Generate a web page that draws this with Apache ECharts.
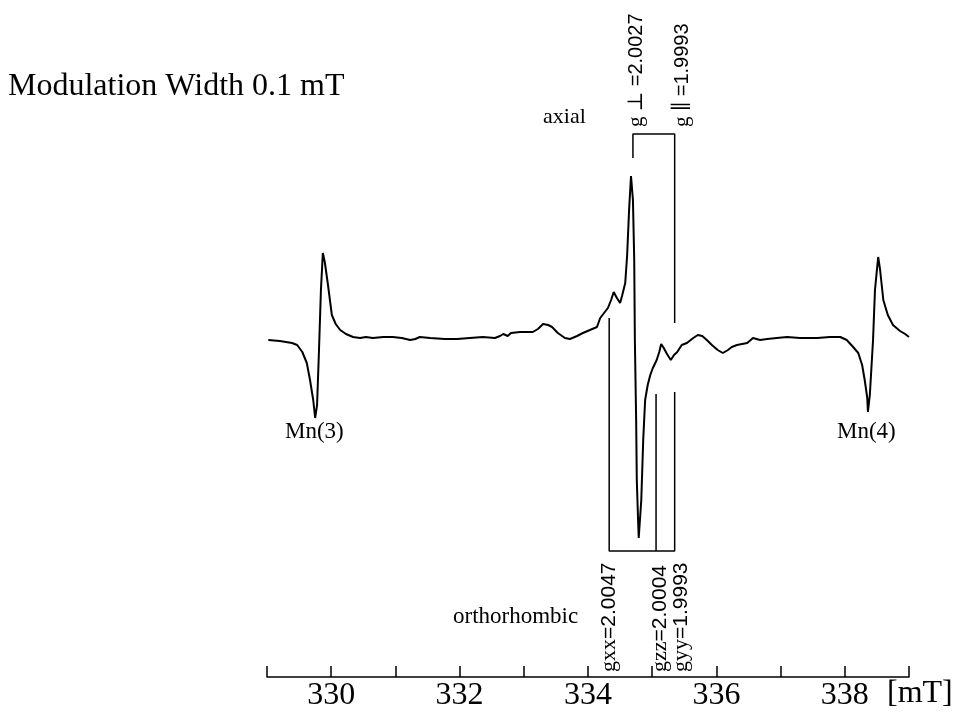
<!DOCTYPE html>
<html>
<head>
<meta charset="utf-8">
<title>EPR spectrum</title>
<script src="https://cdn.jsdelivr.net/npm/echarts/dist/echarts.min.js"></script>
<style>
    html, body { margin: 0; padding: 0; background: #fff; }
    #chartsObj_EPR { width: 958px; height: 713px; }
</style>
</head>
<body>
<div id="chartsObj_EPR"></div>
<script>
// magnetic field [mT] of each trace point
const fieldMT = [
    329.02, 329.20, 329.39, 329.47, 329.55, 329.62, 329.67, 329.72, 329.75, 329.78,
    329.81, 329.84, 329.87, 329.90, 329.95, 330.01, 330.07, 330.14, 330.23, 330.34,
    330.45, 330.54, 330.65, 330.81, 330.96, 331.10, 331.23, 331.31, 331.38, 331.54,
    331.77, 331.96, 332.16, 332.36, 332.55, 332.63, 332.68, 332.75, 332.80, 332.83,
    332.94, 333.14, 333.22, 333.30, 333.38, 333.44, 333.53, 333.64, 333.72, 333.83,
    333.92, 334.03, 334.14, 334.19, 334.25, 334.31, 334.36, 334.40, 334.45, 334.50,
    334.53, 334.58, 334.61, 334.64, 334.67, 334.70, 334.72, 334.73, 334.75, 334.76,
    334.78, 334.79, 334.83, 334.86, 334.89, 334.93, 334.97, 335.01, 335.07, 335.11,
    335.14, 335.18, 335.23, 335.29, 335.34, 335.39, 335.46, 335.54, 335.64, 335.71,
    335.78, 335.85, 335.93, 336.02, 336.10, 336.18, 336.24, 336.32, 336.40, 336.48,
    336.57, 336.68, 336.79, 336.94, 337.10, 337.30, 337.57, 337.77, 337.93, 338.03,
    338.13, 338.21, 338.27, 338.31, 338.35, 338.36, 338.39, 338.44, 338.47, 338.52,
    338.55, 338.60, 338.67, 338.75, 338.86, 338.94, 339.00
];
// first-derivative EPR signal (arbitrary units)
const signal = [
    0, -1, -3, -5, -12, -23, -40, -60, -78, -65,
    -10, 50, 87, 78, 55, 25, 16, 10, 6, 3,
    2, 3, 2, 3, 3, 2, 0, 1, 3, 2,
    1, 1, 2, 3, 2, 4, 6, 4, 7, 9,
    8, 8, 11, 16, 15, 13, 7, 2, 1, 4,
    7, 10, 13, 22, 27, 32, 40, 48, 42, 37,
    44, 57, 85, 130, 164, 140, 80, 0, -80, -140,
    -180, -198, -160, -100, -60, -45, -35, -28, -20, -12,
    -4, -8, -14, -20, -15, -12, -5, -3, 2, 5,
    4, 0, -5, -10, -13, -10, -7, -5, -4, -3,
    2, 0, 1, 2, 3, 2, 2, 3, 3, 0,
    -7, -13, -25, -40, -58, -72, -55, 0, 50, 83,
    70, 40, 25, 15, 9, 6, 3
];

const tickLabels = ['330', '332', '334', '336', '338'];

// axial g values: field position, top of bracket, lower end of each line
const axialFields = [334.70, 335.35];
const axialLabels = ['g ⊥ ', 'g ∥ '];
const axialValues = ['=2.0027', '=1.9993'];
const axialTop = 206;
const axialEnds = [182, 17];

// orthorhombic g values
const orthoFields = [334.33, 335.06, 335.35];
const orthoLabels = ['gxx', 'gzz', 'gyy'];
const orthoValues = ['=2.0047', '=2.0004', '=1.9993'];
const orthoBottom = -211;
const orthoEnds = [22, -54, -52];

const axialBracket = [
    [axialFields[0], axialEnds[0]],
    [axialFields[0], axialTop],
    [axialFields[1], axialTop],
    [axialFields[1], axialEnds[1]]
];
const orthoBracket = [
    [orthoFields[0], orthoEnds[0]],
    [orthoFields[0], orthoBottom],
    [orthoFields[2], orthoBottom],
    [orthoFields[2], orthoEnds[2]]
];
const orthoMiddle = [
    [orthoFields[1], orthoEnds[1]],
    [orthoFields[1], orthoBottom]
];

const serif = "'Liberation Serif', 'DejaVu Serif', serif";
const sans = "'Liberation Sans', 'DejaVu Sans', sans-serif";

function vText (x, y, g, val, size) {
    return {
        type: 'text',
        x: x,
        y: y,
        rotation: Math.PI / 2,
        style: {
            text: '{s|' + g + '}{n|' + val + '}',
            align: 'left',
            verticalAlign: 'middle',
            rich: {
                s: { fontFamily: serif, fontSize: size + 1, fill: '#000' },
                n: { fontFamily: sans, fontSize: size, fill: '#000' }
            }
        }
    };
}

function plainText (x, y, text, size) {
    return {
        type: 'text',
        x: x,
        y: y,
        style: {
            text: text,
            fontFamily: serif,
            fontSize: size,
            fill: '#000',
            align: 'left',
            verticalAlign: 'middle'
        }
    };
}

let eprChart = echarts.init(document.getElementById('chartsObj_EPR'));
eprChart.setOption({
    animation: false,
    backgroundColor: '#fff',
    grid: { left: 267, right: 49, top: 100, bottom: 36 },
    xAxis: {
        type: 'value',
        min: 329,
        max: 339,
        interval: 1,
        axisLine: { onZero: false, lineStyle: { color: '#000', width: 1.5 } },
        axisTick: { inside: true, length: 11, lineStyle: { color: '#000', width: 1.5 } },
        splitLine: { show: false },
        axisLabel: {
            margin: 3,
            color: '#000',
            fontFamily: serif,
            fontSize: 32,
            formatter: function (v) {
                let s = String(v);
                return tickLabels.indexOf(s) >= 0 ? s : '';
            }
        }
    },
    yAxis: {
        type: 'value',
        min: -337,
        max: 240,
        show: false,
        splitLine: { show: false }
    },
    series: [
        {
            type: 'line',
            data: fieldMT.map((f, i) => [f, signal[i]]),
            showSymbol: false,
            lineStyle: { color: '#000', width: 2 }
        },
        {
            type: 'line',
            data: axialBracket,
            showSymbol: false,
            lineStyle: { color: '#000', width: 1.5 }
        },
        {
            type: 'line',
            data: orthoBracket,
            showSymbol: false,
            lineStyle: { color: '#000', width: 1.5 }
        },
        {
            type: 'line',
            data: orthoMiddle,
            showSymbol: false,
            lineStyle: { color: '#000', width: 1.5 }
        }
    ],
    graphic: [
        plainText(8, 87, 'Modulation Width 0.1 mT', 32),
        plainText(543, 117, 'axial', 22),
        plainText(453, 617, 'orthorhombic', 23),
        plainText(285, 432, 'Mn(3)', 23),
        plainText(837, 432, 'Mn(4)', 23),
        plainText(887, 694, '[mT]', 32),
        vText(636, 127, axialLabels[0], axialValues[0], 20),
        vText(682, 127, axialLabels[1], axialValues[1], 20),
        vText(609, 672, orthoLabels[0], orthoValues[0], 21),
        vText(660, 672, orthoLabels[1], orthoValues[1], 21),
        vText(681, 672, orthoLabels[2], orthoValues[2], 21)
    ]
});
</script>
</body>
</html>
